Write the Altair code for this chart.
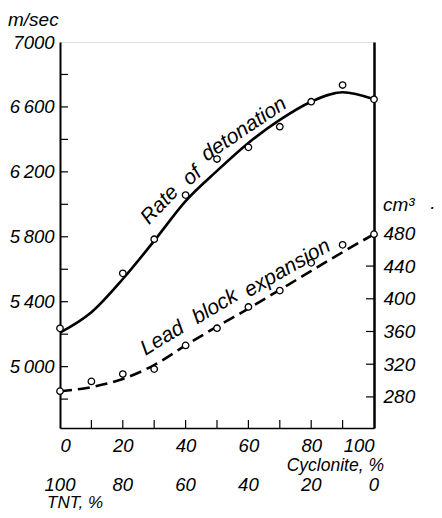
import altair as alt
import pandas as pd

# ---- data ----
det_pts_x = [0, 20, 30, 40, 50, 60, 70, 80, 90, 100]
det_pts_y = [5236, 5575, 5785, 6057, 6279, 6351, 6478, 6632, 6735, 6647]

det_curve_x = [0, 10, 20, 30, 40, 50, 60, 70, 80, 90, 100]
det_curve_y = [5209, 5335, 5540, 5775, 6020, 6206, 6378, 6520, 6632, 6690, 6647]

lead_pts_x = [0, 10, 20, 30, 40, 50, 60, 70, 80, 90, 100]
lead_pts_y = [287, 299, 308, 314, 343, 364, 390, 410, 444, 466, 479]

lead_curve_x = [0, 10, 20, 30, 40, 50, 60, 70, 80, 90, 100]
lead_curve_y = [287, 292, 302, 319, 343, 366, 388, 411, 434, 457, 479]

cyclonite_labels = [0, 20, 40, 60, 80, 100]
tnt_labels = ["100", "80", "60", "40", "20", "0"]
left_labels = [5000, 5400, 5800, 6200, 6600, 7000]
left_ticks = [4800, 5000, 5200, 5400, 5600, 5800, 6000, 6200, 6400, 6600, 6800]
right_labels = [280, 320, 360, 400, 440, 480]
right_ticks = [280, 320, 360, 400, 440]
bottom_ticks = [10, 20, 30, 40, 50, 60, 70, 80, 90]

det_words = ["Rate", "of", "detonation"]
det_words_x = [31.8, 42.1, 58.6]
det_words_y = [5996, 6175, 6462]
det_words_angle = [313, 318, 326]

lead_words = ["Lead", "block", "expansion"]
lead_words_x = [32.6, 49.4, 72.4]
lead_words_y = [351.5, 390.2, 437.2]
lead_words_angle = [329, 329, 330]

FONT = "Liberation Sans"
W, H = 314, 386

xscale = alt.Scale(domain=[0, 100], nice=False, zero=False)
lscale = alt.Scale(domain=[4622, 7000], nice=False, zero=False)
rscale = alt.Scale(domain=[242, 714], nice=False, zero=False)

axis_common = dict(grid=False, ticks=False, domainColor="black", labelColor="black",
                   labelFont=FONT, labelFontStyle="italic", title=None)

det_curve = pd.DataFrame({"x": det_curve_x, "y": det_curve_y})
det_pts = pd.DataFrame({"x": det_pts_x, "y": det_pts_y})
lead_curve = pd.DataFrame({"x": lead_curve_x, "y": lead_curve_y})
lead_pts = pd.DataFrame({"x": lead_pts_x, "y": lead_pts_y})

xaxis = alt.Axis(values=cyclonite_labels, domainWidth=1.5, labelPadding=8, labelFontSize=18.5, **axis_common)

det_line = alt.Chart(det_curve).mark_line(color="black", strokeWidth=2.6, interpolate="monotone").encode(
    x=alt.X("x:Q", scale=xscale, axis=xaxis),
    y=alt.Y("y:Q", scale=lscale, axis=alt.Axis(
        values=left_labels, domainWidth=2, labelPadding=6, labelFontSize=18.5,
        labelExpr="datum.value == 7000 ? '7000' : replace(format(datum.value, ','), ',', '\u2009')",
        **axis_common)),
)
pt_style = dict(shape="circle", filled=True, fill="white", stroke="black", strokeWidth=1.3, size=42, opacity=1)
det_points = alt.Chart(det_pts).mark_point(**pt_style).encode(
    x=alt.X("x:Q", scale=xscale), y=alt.Y("y:Q", scale=lscale))

lt = alt.Chart(pd.DataFrame({"v": left_ticks})).mark_rule(color="black", strokeWidth=1.2).encode(
    y=alt.Y("v:Q", scale=lscale), x=alt.value(0), x2=alt.value(8))
bt = alt.Chart(pd.DataFrame({"v": bottom_ticks})).mark_rule(color="black", strokeWidth=1.2).encode(
    x=alt.X("v:Q", scale=xscale), y=alt.value(H), y2=alt.value(H - 8))

det_label = alt.Chart(pd.DataFrame({"x": det_words_x, "y": det_words_y, "t": det_words,
                                    "a": det_words_angle})).mark_text(
    font=FONT, fontStyle="italic", fontSize=21, color="black").encode(
    x=alt.X("x:Q", scale=xscale), y=alt.Y("y:Q", scale=lscale), text="t:N",
    angle=alt.Angle("a:Q", scale=None))

tnt = alt.Chart(pd.DataFrame({"x": cyclonite_labels, "t": tnt_labels})).mark_text(
    font=FONT, fontStyle="italic", fontSize=18.5, color="black").encode(
    x=alt.X("x:Q", scale=xscale), y=alt.value(442.5), text="t:N")

def txt(s, x, y, align="left", size=19):
    return alt.Chart(pd.DataFrame({"t": [s]})).mark_text(
        font=FONT, fontStyle="italic", fontSize=size, align=align, baseline="middle", color="black").encode(
        x=alt.value(x), y=alt.value(y), text="t:N")

titles = [
    txt("m/sec", -52, -22),
    txt("Cyclonite, %", 324, 424, align="right", size=17.5),
    txt("TNT, %", -13, 460.5, size=17),
    txt("cm³", 323, 163),
    txt("·", 369, 165),
]

left = alt.layer(det_line, lt, bt, det_points, det_label, tnt, *titles)

lead_line = alt.Chart(lead_curve).mark_line(color="black", strokeWidth=2.6, strokeDash=[12, 6],
                                             interpolate="monotone").encode(
    x=alt.X("x:Q", scale=xscale),
    y=alt.Y("y:Q", scale=rscale, axis=alt.Axis(
        orient="right", values=right_labels, domainWidth=2.5, labelPadding=9, labelFontSize=19,
        **axis_common)),
)
lead_points = alt.Chart(lead_pts).mark_point(**pt_style).encode(
    x=alt.X("x:Q", scale=xscale), y=alt.Y("y:Q", scale=rscale))
rt = alt.Chart(pd.DataFrame({"v": right_ticks})).mark_rule(color="black", strokeWidth=1.2).encode(
    y=alt.Y("v:Q", scale=rscale), x=alt.value(W - 8), x2=alt.value(W))
lead_label = alt.Chart(pd.DataFrame({"x": lead_words_x, "y": lead_words_y, "t": lead_words,
                                     "a": lead_words_angle})).mark_text(
    font=FONT, fontStyle="italic", fontSize=21, color="black").encode(
    x=alt.X("x:Q", scale=xscale), y=alt.Y("y:Q", scale=rscale), text="t:N",
    angle=alt.Angle("a:Q", scale=None))

right = alt.layer(lead_line, rt, lead_points, lead_label)

chart = alt.layer(left, right).resolve_scale(y="independent").properties(
    width=W, height=H,
    autosize=alt.AutoSizeParams(type="none"),
    padding={"left": 52, "top": 34, "right": 60, "bottom": 82},
).configure_view(stroke="black", strokeWidth=1.5).configure(background="white")

chart.save("out.html", embed_options={"renderer": "svg", "actions": False})
